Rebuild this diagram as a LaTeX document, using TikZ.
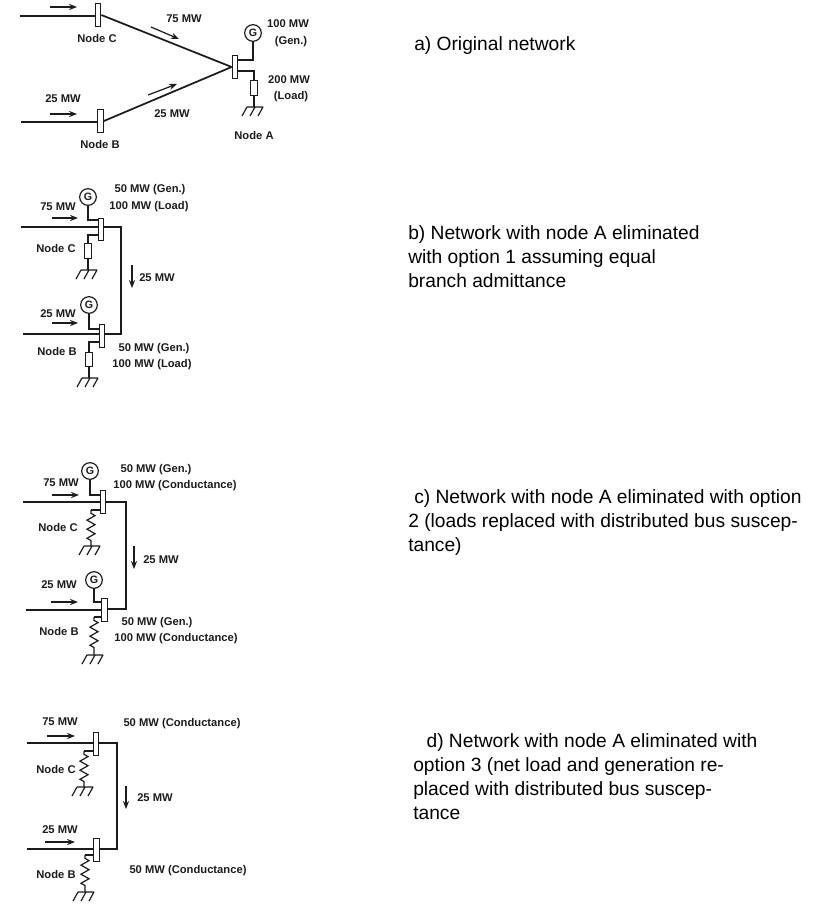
\documentclass[tikz,border=0pt]{standalone}
\usepackage{fontspec}
\setmainfont{Liberation Sans}
\usetikzlibrary{arrows.meta,decorations.pathmorphing}
\definecolor{ink}{HTML}{1C1C1C}
\tikzset{
  lbl/.style={font=\fontsize{8.4}{10}\selectfont\bfseries,text=ink,inner sep=0pt,anchor=center},
  captxt/.style={font=\fontsize{14.4}{18}\selectfont,text=black,inner sep=0pt,anchor=north west,align=left},
  busbar/.style={draw=ink,fill=white,line width=.9pt,minimum width=4.2pt,minimum height=17pt,inner sep=0pt},
  gen/.style={draw=ink,fill=white,circle,line width=.9pt,minimum size=12.5pt,inner sep=0pt,font=\fontsize{8}{8}\selectfont\bfseries,text=ink},
  res/.style={draw=ink,fill=white,line width=.8pt,minimum width=5.2pt,minimum height=11pt,inner sep=0pt},
  mainline/.style={draw=ink,line width=1.3pt},
  tap/.style={draw=ink,line width=.9pt},
  flow/.style={draw=ink,line width=.9pt,-{Stealth[length=6pt,width=4.6pt]}},
  zig/.style={draw=ink,line width=.9pt,decorate,decoration={zigzag,segment length=6.8pt,amplitude=3pt,pre length=2.5pt,post length=2.5pt}},
  gnd/.pic={\draw[ink,line width=.9pt] (-7,0) -- (9,0) (-7,0)--(-12,9) (1,0)--(-4,9) (9,0)--(4,9);},
}
\begin{document}
\begin{tikzpicture}[x=.75pt,y=-.75pt]
\useasboundingbox (0,0) rectangle (816,910);
% ---- a
\coordinate (aCin) at (20,16); \coordinate (aBin) at (21,122);
\coordinate (aT1) at (233,60); \coordinate (aT2) at (233,71);
\coordinate (aE) at (254,107);
\coordinate (aF1s) at (50,7); \coordinate (aF1e) at (77,7);
\coordinate (aF2s) at (50,114); \coordinate (aF2e) at (77,114);
\coordinate (aF3s) at (151,27); \coordinate (aF3e) at (179,39);
\coordinate (aF4s) at (148,95); \coordinate (aF4e) at (177,84);
\node[busbar] (aC) at (98,15) {};
\node[busbar] (aB) at (100.5,121) {};
\node[busbar] (aA) at (235,67) {};
\node[gen] (aG) at (253,33) {G};
\node[res] (aR) at (254,88) {};
\draw[mainline] (aCin) -- (aC.west |- aCin);
\draw[mainline] (aBin) -- (aB.west |- aBin);
\draw[mainline] (aC.east) -- (aA.west);
\draw[mainline] (aB.east) -- (aA.west);
\draw[tap] (aG.south) |- (aA.east |- aT1);
\draw[tap] (aR.north) |- (aA.east |- aT2);
\draw[tap] (aR.south) -- (aE);
\pic at (aE) {gnd};
\draw[flow] (aF1s) -- (aF1e);
\draw[flow] (aF2s) -- (aF2e);
\draw[flow] (aF3s) -- (aF3e);
\draw[flow] (aF4s) -- (aF4e);
\node[lbl] (aL1) at (184,19) {75 MW};
\node[lbl] (aL2) at (288,24) {100 MW};
\node[lbl] (aL3) at (291,42) {(Gen.)};
\node[lbl] (aL4) at (289,80) {200 MW};
\node[lbl] (aL5) at (291,97) {(Load)};
\node[lbl] (aL6) at (63,99) {25 MW};
\node[lbl] (aL7) at (172,114) {25 MW};
\node[lbl] (aL8) at (97,38) {Node C};
\node[lbl] (aL9) at (100,144) {Node B};
\node[lbl] (aL10) at (254,135) {Node A};
\node[captxt] (aCap) at (414,36) {a) Original network};
% ---- b
\node[busbar] (bC) at (101,229.5) {};
\node[busbar] (bB) at (102,336) {};
\node[gen] (bG1) at (88,197) {G};
\node[gen] (bG2) at (89,305) {G};
\node[res] (bR1) at (88,251) {};
\node[res] (bR2) at (89,359.5) {};
\coordinate (bCin) at (21,227); \coordinate (bBin) at (23,334);
\coordinate (bK1) at (121,227); \coordinate (bK2) at (121,334);
\coordinate (bT1) at (99,220); \coordinate (bT2) at (99,235);
\coordinate (bT3) at (100,329); \coordinate (bT4) at (100,342);
\coordinate (bE1) at (88,270); \coordinate (bE2) at (89,378);
\coordinate (bF1s) at (52,218); \coordinate (bF1e) at (78,218);
\coordinate (bF2s) at (52,323); \coordinate (bF2e) at (78,323);
\coordinate (bF3s) at (132,265); \coordinate (bF3e) at (132,288);
\draw[mainline] (bCin) -- (bC.west |- bCin);
\draw[mainline] (bBin) -- (bB.west |- bBin);
\draw[mainline] (bC.east |- bK1) -- (bK1) -- (bK2) -- (bB.east |- bK2);
\draw[tap] (bG1.south) |- (bC.west |- bT1);
\draw[tap] (bR1.north) |- (bC.west |- bT2);
\draw[tap] (bR1.south) -- (bE1);
\draw[tap] (bG2.south) |- (bB.west |- bT3);
\draw[tap] (bR2.north) |- (bB.west |- bT4);
\draw[tap] (bR2.south) -- (bE2);
\pic at (bE1) {gnd};
\pic at (bE2) {gnd};
\draw[flow] (bF1s) -- (bF1e);
\draw[flow] (bF2s) -- (bF2e);
\draw[flow] (bF3s) -- (bF3e);
\node[lbl] (bL1) at (58,207) {75 MW};
\node[lbl] (bL2) at (150,190) {50 MW (Gen.)};
\node[lbl] (bL3) at (149,207) {100 MW (Load)};
\node[lbl] (bL4) at (56,248) {Node C};
\node[lbl] (bL5) at (157,278) {25 MW};
\node[lbl] (bL6) at (58,314) {25 MW};
\node[lbl] (bL7) at (57,351) {Node B};
\node[lbl] (bL8) at (154,349) {50 MW (Gen.)};
\node[lbl] (bL9) at (152,365) {100 MW (Load)};
\node[captxt] (bCap) at (408,225) {b) Network with node A eliminated\\with option 1 assuming equal\\branch admittance};
% ---- c
\node[busbar] (cC) at (103,502) {};
\node[busbar] (cB) at (104.5,610) {};
\node[gen] (cG1) at (90,471) {G};
\node[gen] (cG2) at (94,580) {G};
\coordinate (cCin) at (23,502); \coordinate (cBin) at (26,610);
\coordinate (cK1) at (126,502); \coordinate (cK2) at (126,609);
\coordinate (cT1) at (101,495); \coordinate (cT2) at (101,510);
\coordinate (cT3) at (103,602); \coordinate (cT4) at (103,617);
\coordinate (cZ1) at (91,510); \coordinate (cZ2) at (94,617);
\coordinate (cE1) at (91,546); \coordinate (cE2) at (94,655);
\coordinate (cF1s) at (52,495); \coordinate (cF1e) at (79,495);
\coordinate (cF2s) at (51,602); \coordinate (cF2e) at (78,602);
\coordinate (cF3s) at (134,546); \coordinate (cF3e) at (134,569);
\draw[mainline] (cCin) -- (cC.west);
\draw[mainline] (cBin) -- (cB.west);
\draw[mainline] (cC.east) -- (cK1) -- (cK2) -- (cB.east |- cK2);
\draw[tap] (cG1.south) |- (cC.west |- cT1);
\draw[tap] (cZ1) -- (cC.west |- cT2);
\draw[zig] (cZ1) -- (cE1);
\draw[tap] (cG2.south) |- (cB.west |- cT3);
\draw[tap] (cZ2) -- (cB.west |- cT4);
\draw[zig] (cZ2) -- (cE2);
\pic at (cE1) {gnd};
\pic at (cE2) {gnd};
\draw[flow] (cF1s) -- (cF1e);
\draw[flow] (cF2s) -- (cF2e);
\draw[flow] (cF3s) -- (cF3e);
\node[lbl] (cL1) at (61,483) {75 MW};
\node[lbl] (cL2) at (156,470) {50 MW (Gen.)};
\node[lbl] (cL3) at (175,486) {100 MW (Conductance)};
\node[lbl] (cL4) at (58,527) {Node C};
\node[lbl] (cL5) at (161,560) {25 MW};
\node[lbl] (cL6) at (59,585) {25 MW};
\node[lbl] (cL7) at (59,631) {Node B};
\node[lbl] (cL8) at (157,623) {50 MW (Gen.)};
\node[lbl] (cL9) at (176,639) {100 MW (Conductance)};
\node[captxt] (cCap) at (408,489) {\hspace*{4.5pt}c) Network with node A eliminated with option\\2 (loads replaced with distributed bus suscep-\\tance)};
% ---- d
\node[busbar] (dC) at (96,744) {};
\node[busbar] (dB) at (96.5,850) {};
\coordinate (dCin) at (27,743); \coordinate (dBin) at (27,849);
\coordinate (dK1) at (117,743); \coordinate (dK2) at (117,849);
\coordinate (dT1) at (94,751); \coordinate (dT2) at (94,855);
\coordinate (dZ1) at (84,751); \coordinate (dZ2) at (85,855);
\coordinate (dE1) at (84,787); \coordinate (dE2) at (85,892);
\coordinate (dF1s) at (47,736); \coordinate (dF1e) at (75,736);
\coordinate (dF2s) at (45,842); \coordinate (dF2e) at (75,842);
\coordinate (dF3s) at (126,786); \coordinate (dF3e) at (126,809);
\draw[mainline] (dCin) -- (dC.west |- dCin);
\draw[mainline] (dBin) -- (dB.west |- dBin);
\draw[mainline] (dC.east |- dK1) -- (dK1) -- (dK2) -- (dB.east |- dK2);
\draw[tap] (dZ1) -- (dC.west |- dT1);
\draw[zig] (dZ1) -- (dE1);
\draw[tap] (dZ2) -- (dB.west |- dT2);
\draw[zig] (dZ2) -- (dE2);
\pic at (dE1) {gnd};
\pic at (dE2) {gnd};
\draw[flow] (dF1s) -- (dF1e);
\draw[flow] (dF2s) -- (dF2e);
\draw[flow] (dF3s) -- (dF3e);
\node[lbl] (dL1) at (60,722) {75 MW};
\node[lbl] (dL2) at (182,724) {50 MW (Conductance)};
\node[lbl] (dL3) at (56,769) {Node C};
\node[lbl] (dL4) at (155,798) {25 MW};
\node[lbl] (dL5) at (60,830) {25 MW};
\node[lbl] (dL6) at (56,874) {Node B};
\node[lbl] (dL7) at (188,871) {50 MW (Conductance)};
\node[captxt] (dCap) at (413,733) {\hspace*{10pt}d) Network with node A eliminated with\\option 3 (net load and generation re-\\placed with distributed bus suscep-\\tance};
\end{tikzpicture}
\end{document}
